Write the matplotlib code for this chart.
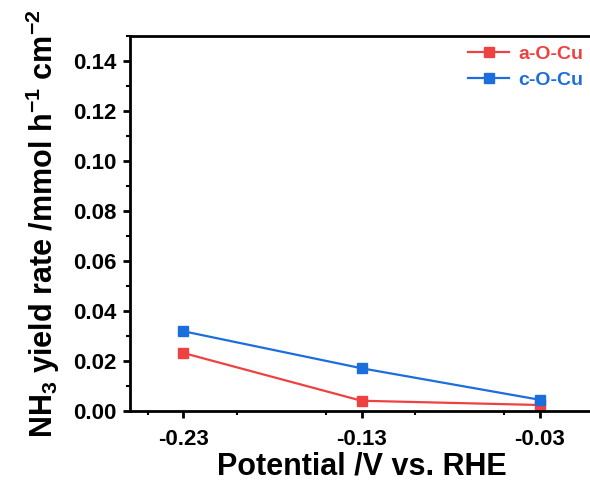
import matplotlib
matplotlib.use("Agg")
import matplotlib.pyplot as plt
from matplotlib.ticker import MultipleLocator

plt.rcParams['font.family'] = ['Liberation Sans', 'DejaVu Sans']
plt.rcParams['font.weight'] = 'bold'
plt.rcParams['mathtext.fontset'] = 'custom'
plt.rcParams['mathtext.rm'] = 'Liberation Sans:bold'
plt.rcParams['mathtext.default'] = 'rm'

# data
potential = [-0.23, -0.13, -0.03]
a_o_cu = [0.0232, 0.0041, 0.0024]
c_o_cu = [0.0319, 0.0171, 0.0045]
tick_labels = ['-0.23', '-0.13', '-0.03']
y_ticks = [0, 0.02, 0.04, 0.06, 0.08, 0.10, 0.12, 0.14]

red = '#EE4242'
blue = '#1C6EDC'

fig = plt.figure(figsize=(5.9, 4.83), dpi=100)
ax = fig.add_axes([130 / 590, 72 / 483, 463 / 590, 375 / 483])

ax.plot(potential, a_o_cu, color=red, lw=1.6, marker='s', ms=6.5, label='a-O-Cu')
ax.plot(potential, c_o_cu, color=blue, lw=1.6, marker='s', ms=6.5, label='c-O-Cu')

ax.set_xlim(-0.26, 0.0)
ax.set_ylim(0, 0.15)
ax.set_xticks(potential)
ax.set_xticklabels(tick_labels)
ax.xaxis.set_minor_locator(MultipleLocator(0.05))
ax.yaxis.set_minor_locator(MultipleLocator(0.01))
ax.set_yticks(y_ticks)
ax.set_yticklabels([f'{v:.2f}' for v in y_ticks])

for side in ['left', 'bottom', 'top']:
    ax.spines[side].set_linewidth(2.0)
ax.spines['right'].set_visible(False)
ax.tick_params(which='major', direction='out', length=5, width=2, labelsize=16)
ax.tick_params(which='minor', direction='out', length=3, width=1.5)
ax.tick_params(axis='x', which='major', pad=8)
ax.tick_params(axis='y', which='major', pad=5)

ax.set_xlabel('Potential /V vs. RHE', fontsize=22, fontweight='bold', labelpad=1)
ax.set_ylabel(r'NH$_3$ yield rate /mmol h$^{-1}$ cm$^{-2}$', fontsize=22,
              fontweight='bold')
ax.yaxis.set_label_coords(-0.147, 0.50)

leg = ax.legend(loc='upper right', bbox_to_anchor=(583 / 590, 1 - 45 / 483),
                bbox_transform=fig.transFigure, frameon=False, fontsize=14,
                handlelength=2.1, handletextpad=0.45, labelspacing=0.45,
                borderaxespad=0, borderpad=0)
for text, line in zip(leg.get_texts(), leg.get_lines()):
    text.set_color(line.get_color())
    text.set_fontweight('bold')

fig.savefig('out.png', dpi=100)
